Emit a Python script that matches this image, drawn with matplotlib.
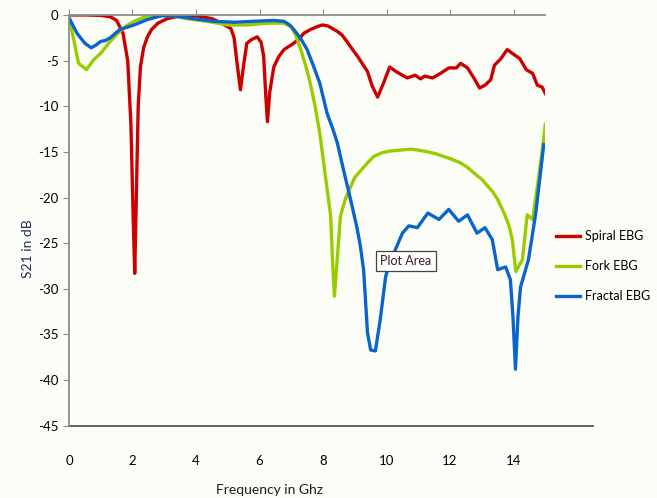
import matplotlib.pyplot as plt
from matplotlib.lines import Line2D

# S21 curves
spiral_f = [0, 0.5, 1.0, 1.3, 1.5, 1.7, 1.85, 1.95, 2.02, 2.07, 2.12, 2.18, 2.25, 2.35,
            2.47, 2.6, 2.8, 3.1, 3.5, 4.0, 4.5, 4.8, 5.0, 5.1, 5.2, 5.3, 5.4, 5.5, 5.6,
            5.75, 5.93, 6.05, 6.13, 6.2, 6.25, 6.32, 6.45, 6.6, 6.77, 6.9, 7.08, 7.25,
            7.4, 7.6, 7.8, 7.98, 8.15, 8.3, 8.45, 8.6, 8.75, 8.87, 9.1, 9.4, 9.55, 9.72,
            9.9, 10.1, 10.3, 10.5, 10.65, 10.9, 11.07, 11.2, 11.45, 11.7, 11.96, 12.2,
            12.33, 12.55, 12.75, 12.93, 13.1, 13.28, 13.4, 13.6, 13.8, 14.0, 14.2, 14.4,
            14.6, 14.75, 14.9, 15.0]
spiral_s21 = [0, 0, -0.05, -0.2, -0.6, -2.0, -5, -12, -22, -28.3, -20, -10, -5.7, -3.6,
              -2.4, -1.6, -0.9, -0.4, -0.1, -0.1, -0.4, -0.9, -1.3, -1.5, -2.5, -5.5, -8.2,
              -5.5, -3.1, -2.7, -2.4, -3.0, -4.5, -9, -11.7, -8.5, -5.7, -4.6, -3.8, -3.5,
              -3.1, -2.6, -2.0, -1.6, -1.3, -1.1, -1.2, -1.5, -1.8, -2.2, -2.9, -3.5, -4.6,
              -6.2, -7.8, -9.0, -7.5, -5.7, -6.2, -6.6, -6.9, -6.6, -7.0, -6.7, -6.9, -6.4,
              -5.8, -5.8, -5.3, -5.8, -6.9, -8.0, -7.7, -7.1, -5.5, -4.8, -3.8, -4.3, -4.8,
              -6.0, -6.4, -7.7, -7.9, -8.6]

fork_f = [0, 0.15, 0.3, 0.45, 0.55, 0.65, 0.78, 1.0, 1.3, 1.6, 1.8, 2.05, 2.47, 2.9, 3.3,
          3.7, 4.35, 5.0, 5.6, 6.25, 6.77, 7.0, 7.15, 7.3, 7.45, 7.6, 7.75, 7.9, 8.05,
          8.24, 8.3, 8.36, 8.42, 8.55, 8.7, 8.87, 9.0, 9.2, 9.4, 9.6, 9.85, 10.12, 10.45,
          10.75, 11.0, 11.3, 11.55, 11.8, 12.05, 12.33, 12.55, 12.75, 13.0, 13.2, 13.35,
          13.5, 13.7, 13.85, 13.96, 14.07, 14.28, 14.43, 14.6, 14.75, 14.9, 15.0]
fork_s21 = [-0.4, -2.7, -5.3, -5.7, -6.0, -5.5, -4.9, -4.2, -2.9, -1.8, -1.2, -0.7, -0.1, 0,
            -0.1, -0.4, -0.7, -1.1, -1.1, -0.9, -0.9, -1.3, -2.3, -3.8, -5.5, -7.5, -10,
            -13, -17, -22, -27, -30.8, -28, -22, -20.2, -18.8, -17.8, -17, -16.2, -15.5,
            -15.1, -14.9, -14.8, -14.7, -14.8, -15.0, -15.2, -15.5, -15.8, -16.2, -16.7,
            -17.3, -18.0, -18.8, -19.4, -20.2, -21.7, -23, -24.6, -28.1, -26.8, -21.9,
            -22.4, -18.8, -15, -12]

fractal_f = [0, 0.25, 0.5, 0.7, 0.85, 1.0, 1.15, 1.3, 1.6, 2.05, 2.47, 2.9, 3.3, 3.9, 4.56,
             5.2, 5.8, 6.45, 6.77, 6.95, 7.08, 7.3, 7.5, 7.7, 7.9, 8.13, 8.3, 8.45, 8.6,
             8.77, 8.92, 9.08, 9.18, 9.28, 9.4, 9.5, 9.65, 9.8, 9.97, 10.1, 10.23, 10.5,
             10.7, 10.97, 11.3, 11.65, 11.96, 12.27, 12.55, 12.85, 13.1, 13.33, 13.5, 13.75,
             13.9, 13.98, 14.06, 14.14, 14.22, 14.47, 14.7, 14.95]
fractal_s21 = [-0.3, -2.0, -3.1, -3.6, -3.3, -2.9, -2.8, -2.5, -1.6, -1.1, -0.5, -0.1, -0.1,
               -0.4, -0.7, -0.8, -0.7, -0.6, -0.7, -1.1, -1.6, -2.6, -3.8, -5.6, -7.5, -10.8,
               -12.4, -14.0, -16.3, -18.8, -21, -23.5, -25.4, -28, -34.8, -36.7, -36.8,
               -33.4, -28.7, -27, -26.1, -23.9, -23.1, -23.3, -21.7, -22.4, -21.3, -22.6,
               -21.9, -23.9, -23.3, -24.6, -27.9, -27.6, -29, -33, -38.8, -33, -29.8, -26.8,
               -21.7, -14.2]

x_ticks = [0, 2, 4, 6, 8, 10, 12, 14]
y_ticks = [-45, -40, -35, -30, -25, -20, -15, -10, -5, 0]

plt.rcParams['font.family'] = ['Lato', 'DejaVu Sans']
plt.rcParams['axes.unicode_minus'] = False
bg = '#fdfdf7'
axis_grey = '#8c8c8c'

fig = plt.figure(figsize=(6.57, 4.98), dpi=100, facecolor=bg)
ax = fig.add_axes([0.105, 0.145, 0.725, 0.825], facecolor=bg)

ax.plot(spiral_f, spiral_s21, color='#cc0000', lw=2.4, label='Spiral EBG')
ax.plot(fork_f, fork_s21, color='#99cc00', lw=2.4, label='Fork EBG')
ax.plot(fractal_f, fractal_s21, color='#0a64cc', lw=2.4, label='Fractal EBG')

ax.set_xlim(0, 15)
ax.set_ylim(-45, 0)
ax.set_xticks(x_ticks)
ax.set_yticks(y_ticks)

# axis sits at y=0 with ticks pointing up, labels drawn at the bottom
ax.spines['right'].set_visible(False)
ax.spines['bottom'].set_visible(False)
ax.spines['top'].set_color(axis_grey)
ax.spines['left'].set_color(axis_grey)
ax.spines['top'].set_linewidth(1.3)
ax.spines['left'].set_linewidth(1.3)
ax.tick_params(axis='x', top=True, bottom=False, labeltop=False, labelbottom=True,
               direction='out', length=4, color=axis_grey, pad=17, labelsize=9.5)
ax.tick_params(axis='y', direction='out', length=4, color=axis_grey, labelsize=9.5)

# plot-area bottom edge, runs past the last x value like in the reference
ax.add_line(Line2D([0, 1.1], [0, 0], transform=ax.transAxes, color='#555555',
                   lw=1.3, clip_on=False))

ax.set_xlabel('Frequency in Ghz', fontsize=10, labelpad=12, color='#1a1a1a', x=0.42)
ax.set_ylabel('S21 in dB', fontsize=10, color='#1f3060')
ax.yaxis.set_label_coords(-0.074, 0.43)

leg = ax.legend(loc='center left', bbox_to_anchor=(550 / 657, 1 - 266 / 498),
                bbox_transform=fig.transFigure, frameon=False, fontsize=9,
                handlelength=1.9, handletextpad=0.4, labelspacing=1.45, borderpad=0)

# Excel tooltip left in the screenshot
fig.text(406 / 657, 1 - 261 / 498, 'Plot Area', ha='center', va='center', fontsize=9,
         color='#3a1c1c',
         bbox=dict(boxstyle='square,pad=0.35', fc='white', ec='#444444', lw=0.9))

fig.savefig('out.png', dpi=100, facecolor=bg)
